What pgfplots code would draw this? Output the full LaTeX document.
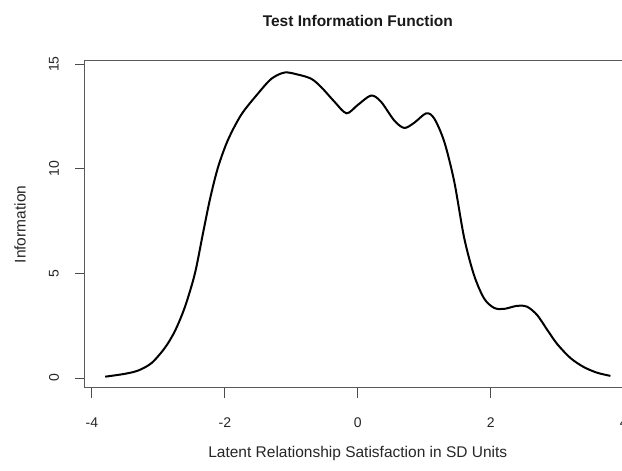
\documentclass[border=0pt]{standalone}
\usepackage{fontspec}
\setmainfont{Liberation Sans}
\usepackage{pgfplots}
\pgfplotsset{compat=1.18}

\pgfplotstableread{
x      info
-3.80  0.06
-3.50  0.20
-3.30  0.36
-3.10  0.72
-2.90  1.45
-2.75  2.25
-2.60  3.40
-2.45  5.00
-2.33  6.90
-2.22  8.60
-2.10  10.10
-1.95  11.40
-1.75  12.60
-1.50  13.60
-1.30  14.30
-1.10  14.60
-0.90  14.50
-0.70  14.30
-0.55  13.90
-0.35  13.20
-0.17  12.65
 0.00  13.05
 0.20  13.50
 0.35  13.20
 0.55  12.30
 0.70  11.95
 0.85  12.20
 1.03  12.65
 1.15  12.40
 1.30  11.30
 1.45  9.40
 1.60  6.70
 1.75  4.90
 1.90  3.80
 2.05  3.35
 2.20  3.30
 2.40  3.45
 2.55  3.40
 2.70  3.00
 2.85  2.30
 3.00  1.62
 3.20  0.95
 3.40  0.52
 3.60  0.25
 3.80  0.10
}\infotable

\begin{document}
\begin{tikzpicture}
\useasboundingbox (0pt,0pt) rectangle (622pt,471pt);
\begin{axis}[
  scale only axis, width=545.6pt, height=327pt,
  at={(85pt,83pt)}, anchor=south west,
  xmin=-4.104, xmax=4.104, ymin=-0.48, ymax=15.15,
  xtick={-4,-2,0,2,4}, xticklabels={-4,-2,0,2,4},
  ytick={0,5,10,15}, yticklabels={0,5,10,15},
  tick align=outside, major tick length=10pt,
  xtick pos=bottom, ytick pos=left,
  every tick/.style={black!70, line width=0.9pt},
  axis line style={black!65, line width=1pt},
  ticklabel style={font=\fontsize{14}{16}\selectfont, text=black!85},
  xticklabel style={anchor=center, yshift=-25pt},
  yticklabel style={xshift=-21pt, rotate=90, anchor=center},
  title={Test Information Function},
  title style={font=\fontsize{15.5}{18}\selectfont\bfseries, text=black!90,
    at={(axis description cs:0.5,1.105)}, anchor=center},
  xlabel={Latent Relationship Satisfaction in SD Units},
  xlabel style={font=\fontsize{15.5}{18}\selectfont, text=black!85,
    at={(axis description cs:0.5,-0.200)}, anchor=center},
  ylabel={Information},
  ylabel style={font=\fontsize{15.5}{18}\selectfont, text=black!85,
    at={(axis description cs:-0.119,0.5)}, anchor=center},
]
\addplot[black, line width=2pt, smooth, no markers] table[x=x, y=info] {\infotable};
\end{axis}
\end{tikzpicture}
\end{document}
